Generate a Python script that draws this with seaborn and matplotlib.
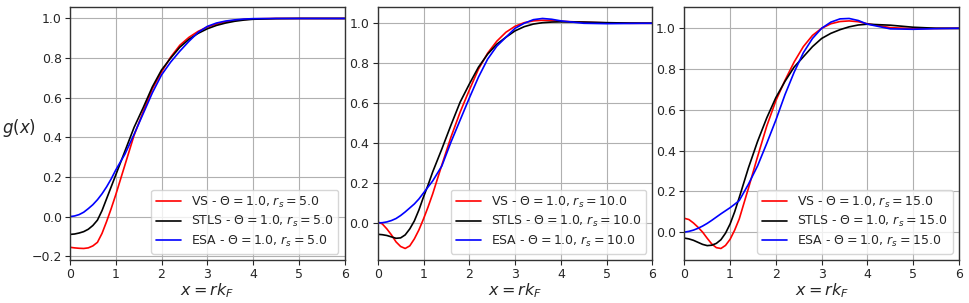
import matplotlib
matplotlib.use("Agg")
import matplotlib.pyplot as plt
import numpy as np
import pandas as pd
import seaborn as sns

# radial grid x = r*k_F (shared by all panels)
x = [0.0, 0.1, 0.2, 0.3, 0.4, 0.5, 0.6, 0.7, 0.8, 0.9, 1.0, 1.1, 1.2,
     1.4, 1.6, 1.8, 2.0, 2.2, 2.4, 2.6, 2.8, 3.0, 3.2, 3.4, 3.6, 3.8, 4.0,
     4.5, 5.0, 5.5, 6.0]

rs_values = [5.0, 10.0, 15.0]
theta = 1.0

# rs = 5
vs_5 = [-0.155, -0.158, -0.160, -0.161, -0.158, -0.148, -0.13, -0.085, -0.025, 0.04, 0.11, 0.185, 0.26,
        0.41, 0.53, 0.645, 0.73, 0.805, 0.865, 0.905, 0.935, 0.957, 0.972, 0.983, 0.99, 0.995, 0.998,
        1.0, 1.0, 1.0, 1.0]
stls_5 = [-0.09, -0.088, -0.083, -0.076, -0.064, -0.045, -0.018, 0.03, 0.09, 0.15, 0.21, 0.27, 0.33,
          0.45, 0.55, 0.655, 0.74, 0.80, 0.855, 0.895, 0.925, 0.948, 0.965, 0.977, 0.986, 0.992, 0.996,
          0.999, 1.0, 1.0, 1.0]
esa_5 = [0.0, 0.003, 0.01, 0.022, 0.04, 0.06, 0.085, 0.115, 0.15, 0.19, 0.235, 0.275, 0.315,
         0.415, 0.52, 0.625, 0.715, 0.78, 0.835, 0.885, 0.93, 0.96, 0.977, 0.987, 0.993, 0.997, 0.999,
         1.0, 1.0, 1.0, 1.0]

# rs = 10
vs_10 = [0.005, -0.005, -0.03, -0.06, -0.095, -0.118, -0.128, -0.115, -0.08, -0.035, 0.02, 0.08, 0.145,
         0.29, 0.43, 0.555, 0.665, 0.77, 0.85, 0.91, 0.955, 0.985, 1.003, 1.012, 1.015, 1.013, 1.01,
         1.005, 1.002, 1.0, 1.0]
stls_10 = [-0.057, -0.059, -0.063, -0.07, -0.077, -0.075, -0.06, -0.03, 0.01, 0.065, 0.13, 0.19, 0.255,
           0.37, 0.49, 0.605, 0.695, 0.78, 0.845, 0.895, 0.93, 0.962, 0.983, 0.996, 1.003, 1.006, 1.007,
           1.006, 1.003, 1.001, 1.0]
esa_10 = [0.0, 0.001, 0.005, 0.012, 0.022, 0.037, 0.055, 0.075, 0.095, 0.12, 0.15, 0.18, 0.21,
          0.285, 0.405, 0.515, 0.625, 0.73, 0.82, 0.885, 0.93, 0.975, 1.0, 1.018, 1.024, 1.02, 1.012,
          1.0, 0.998, 0.999, 1.0]

# rs = 15
vs_15 = [0.068, 0.062, 0.045, 0.024, 0.0, -0.03, -0.058, -0.076, -0.08, -0.065, -0.035, 0.01, 0.065,
         0.215, 0.37, 0.52, 0.645, 0.745, 0.835, 0.91, 0.965, 1.0, 1.022, 1.033, 1.036, 1.032, 1.022,
         1.003, 0.998, 0.999, 1.0]
stls_15 = [-0.029, -0.033, -0.04, -0.05, -0.06, -0.066, -0.064, -0.055, -0.037, -0.005, 0.04, 0.1, 0.17,
           0.315, 0.445, 0.56, 0.66, 0.74, 0.81, 0.86, 0.91, 0.95, 0.975, 0.993, 1.007, 1.016, 1.02,
           1.015, 1.005, 1.0, 0.999]
esa_15 = [0.0, 0.004, 0.01, 0.019, 0.03, 0.043, 0.058, 0.074, 0.09, 0.105, 0.12, 0.137, 0.155,
          0.235, 0.325, 0.435, 0.55, 0.675, 0.785, 0.88, 0.95, 1.0, 1.03, 1.046, 1.048, 1.038, 1.02,
          0.997, 0.995, 0.998, 1.0]

data = {5.0: (vs_5, stls_5, esa_5),
        10.0: (vs_10, stls_10, esa_10),
        15.0: (vs_15, stls_15, esa_15)}

schemes = ["VS", "STLS", "ESA"]
colors = ["red", "black", "blue"]

sns.set_style("ticks")
plt.rcParams["font.family"] = ["DejaVu Sans"]

fig = plt.figure(figsize=(9.69, 3.03), dpi=100)
lefts = [0.0722, 0.3898, 0.7062]

for i, rs in enumerate(rs_values):
    ax = fig.add_axes([lefts[i], 0.142, 0.2835, 0.835])
    for name, col, g in zip(schemes, colors, data[rs]):
        sns.lineplot(x=x, y=g, color=col, linewidth=1.2, ax=ax,
                     label=rf"{name} - $\Theta = {theta}$, $r_s = {rs}$")
    ax.set_xlim(0, 6)
    ax.set_xticks(range(0, 7))
    ax.grid(True, color="#b0b0b0", linewidth=0.8)
    ax.tick_params(labelsize=9, direction="out", length=3.5, pad=2.5)
    ax.set_xlabel(r"$x = rk_F$", fontsize=11.5, labelpad=0)
    if i == 0:
        ax.set_ylabel(r"$g(x)$", fontsize=12, rotation=0, ha="center", va="center")
        ax.yaxis.set_label_coords(-0.185, 0.52)
    else:
        ax.set_ylabel("")
    ax.legend(loc="lower right", fontsize=9, framealpha=0.8, handlelength=2,
              labelspacing=0.35, borderpad=0.4)
    for s in ax.spines.values():
        s.set_color("#333333")
        s.set_linewidth(1.0)

fig.savefig("out.png", dpi=100)
